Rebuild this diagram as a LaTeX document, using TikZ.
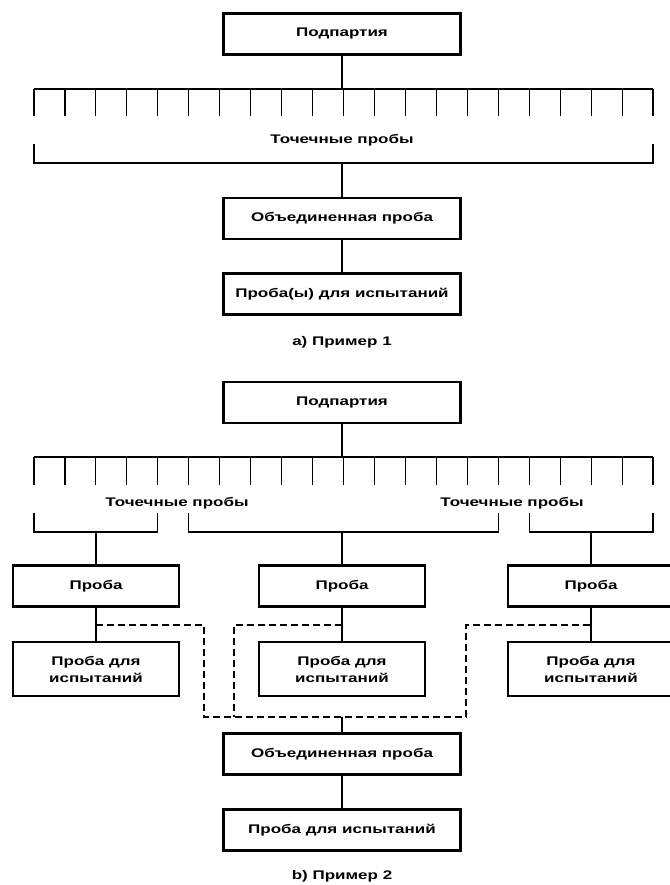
\documentclass[tikz,border=0pt]{standalone}
\usepackage{fontspec}
\setmainfont{Liberation Sans}[FakeStretch=1.36]
\begin{document}
\begin{tikzpicture}[x=1pt,y=-1pt,
  box/.style={draw, line width=2.6pt, minimum width=237pt, minimum height=41pt, inner sep=0pt, align=center},
  sbox/.style={draw, line width=2.6pt, minimum width=166pt, minimum height=41pt, inner sep=0pt, align=center},
  tbox/.style={draw, line width=2.6pt, minimum width=166pt, minimum height=54pt, inner sep=0pt, align=center},
  lbl/.style={inner sep=0pt},
  conn/.style={line width=1.1pt},
  dsh/.style={line width=1.1pt, dash pattern=on 7pt off 4pt},
  every node/.style={font=\bfseries\fontsize{12.5}{17}\selectfont}]
\useasboundingbox (0,0) rectangle (669,885);

% ---------- part a ----------
\node[box] (a1) at (342,34) {Подпартия};
\coordinate (ac) at (342,89);
\draw[conn] (a1.south) -- (ac);
\draw[conn] (34,89) -- (653,89);
\foreach \i in {0,...,20} {\draw[conn] (34+\i*30.95,89) -- (34+\i*30.95,116);}
\node[lbl] (at) at (342,140) {Точечные пробы};
\coordinate (ab) at (342,163);
\draw[conn] (34,144) -- (34,163) -- (653,163) -- (653,144);
\node[box] (a2) at (342,218.5) {Объединенная проба};
\draw[conn] (ab) -- (a2.north);
\node[box] (a3) at (342,294) {Проба(ы) для испытаний};
\draw[conn] (a2.south) -- (a3.north);
\node[lbl] (acap) at (342,342) {а) Пример 1};

% ---------- part b ----------
\node[box] (b1) at (342,402.5) {Подпартия};
\coordinate (bc) at (342,457);
\draw[conn] (b1.south) -- (bc);
\draw[conn] (34,457) -- (653,457);
\foreach \i in {0,...,20} {\draw[conn] (34+\i*30.95,457) -- (34+\i*30.95,485);}
\node[lbl] (btl) at (177,503) {Точечные пробы};
\node[lbl] (btr) at (512,503) {Точечные пробы};
\draw[conn] (34,513) -- (34,532) -- (157.8,532) -- (157.8,513);
\draw[conn] (188.75,513) -- (188.75,532) -- (498.25,532) -- (498.25,513);
\draw[conn] (529.2,513) -- (529.2,532) -- (653,532) -- (653,513);
\coordinate (bl) at (96,532);
\coordinate (bm) at (342,532);
\coordinate (br) at (591,532);

\node[sbox] (p1) at (96,586) {Проба};
\node[sbox] (p2) at (342,586) {Проба};
\node[sbox] (p3) at (591,586) {Проба};
\draw[conn] (bl) -- (p1.north);
\draw[conn] (bm) -- (p2.north);
\draw[conn] (br) -- (p3.north);

\node[tbox] (t1) at (96,669) {Проба для\\испытаний};
\node[tbox] (t2) at (342,669) {Проба для\\испытаний};
\node[tbox] (t3) at (591,669) {Проба для\\испытаний};
\draw[conn] (p1.south) -- (t1.north);
\draw[conn] (p2.south) -- (t2.north);
\draw[conn] (p3.south) -- (t3.north);

\coordinate (d1) at (96,625);
\coordinate (d2) at (342,625);
\coordinate (d3) at (591,625);
\coordinate (dm) at (342,717);
\draw[dsh] (d1) -- (204,625) -- (204,717) -- (466,717) -- (466,625) -- (d3);
\draw[dsh] (d2) -- (234,625) -- (234,717);

\node[box] (b2) at (342,754) {Объединенная проба};
\draw[conn] (dm) -- (b2.north);
\node[box] (b3) at (342,830) {Проба для испытаний};
\draw[conn] (b2.south) -- (b3.north);
\node[lbl] (bcap) at (342,876) {b) Пример 2};
\end{tikzpicture}
\end{document}
